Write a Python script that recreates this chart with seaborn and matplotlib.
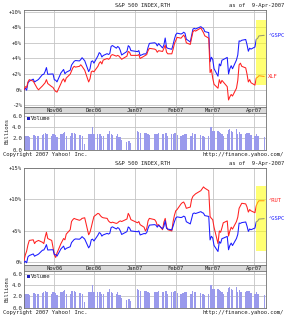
import numpy as np
import pandas as pd
import matplotlib
matplotlib.use("Agg")
import matplotlib.pyplot as plt
from matplotlib.patches import Rectangle
import seaborn as sns

# ---------------- data ----------------
start_date = "2006-10-09"
end_date = "2007-04-09"
holidays = ["2006-11-23", "2006-12-25", "2007-01-01", "2007-01-02",
            "2007-01-15", "2007-02-19", "2007-04-06"]

gspc_pct = [0.0, 0.2, -0.05, 0.9, 1.1, 1.36, 0.99, 1.12, 1.21, 1.33, 1.95, 1.98, 2.34, 2.84, 1.98, 2.02, 2.02,
            1.27, 1.23, 1.01, 2.16, 2.38, 2.60, 2.05, 2.24, 2.50, 3.15, 3.40, 3.64, 3.74, 3.69, 3.86, 4.10, 3.72, 2.32, 2.67, 3.61, 3.70,
            3.41, 4.33, 4.75, 4.61, 4.19, 4.38, 4.62, 4.51, 4.63, 5.54, 5.66, 5.32, 5.54, 5.40, 5.01, 4.45, 4.90, 5.64, 5.48, 5.01,
            4.88, 5.01, 4.37, 4.60, 4.55, 4.75, 5.42, 5.93, 6.01, 5.92, 5.61, 5.91, 5.35, 5.73, 6.62, 5.42, 5.30, 5.18, 5.79, 6.48,
            7.05, 7.24, 7.13, 7.21, 7.36, 7.23, 6.47, 6.12, 6.93, 7.75, 7.86, 7.77, 8.07, 7.92, 7.83, 7.44, 7.31, 3.58, 4.16,
            3.89, 2.70, 1.74, 3.31, 3.06, 3.79, 3.86, 4.14, 2.02, 2.70, 3.08, 2.69, 3.81, 4.46, 6.25, 6.21, 6.33, 6.43, 5.77, 4.93, 5.32, 5.20,
            5.47, 6.45, 6.57, 6.89, 6.96]

xlf_pct = [0.0, 0.4, 0.3, 1.0, 1.3, 1.1, 0.8, 0.5, 0.2, 0.0, 0.5, 0.7, 0.9, 1.3, 0.8, 0.4, 0.3,
           0.0, -0.2, -0.3, 0.8, 1.2, 1.4, 1.0, 1.5, 2.0, 2.4, 2.8, 3.0, 2.9, 3.0, 3.2, 3.0, 2.5, 1.0, 1.4, 2.3, 2.4,
           2.3, 3.0, 3.4, 3.6, 3.3, 3.8, 4.0, 3.9, 4.0, 4.4, 4.5, 4.3, 4.4, 4.3, 4.1, 3.9, 4.3, 4.9, 4.8, 4.4,
           4.4, 4.5, 4.0, 4.3, 4.4, 4.5, 5.0, 5.3, 5.2, 5.1, 4.8, 5.0, 4.9, 5.3, 5.7, 4.8, 4.6, 4.6, 5.2, 5.9,
           6.3, 6.7, 6.6, 6.8, 7.0, 6.7, 6.0, 5.8, 6.6, 7.4, 7.6, 7.5, 7.9, 7.6, 7.3, 6.9, 6.6, 2.2, 2.6,
           1.5, 0.7, 0.2, 1.3, 0.8, 1.2, 1.0, 0.4, -1.3, -0.9, -0.6, -0.8, 0.2, 1.2, 3.2, 3.4, 3.0, 2.8, 2.0, 1.0, 1.3, 0.9,
           0.6, 1.5, 1.6, 1.8, 1.7]

rut_pct = [0.3, 1.2, 1.8, 2.8, 3.5, 3.6, 3.0, 3.3, 3.4, 3.5, 3.2, 3.0, 4.0, 4.8, 3.8, 3.5, 2.4,
           1.2, 0.8, 1.5, 3.0, 3.4, 3.8, 3.6, 4.5, 5.2, 6.5, 6.8, 7.0, 6.9, 6.7, 6.8, 7.0, 7.1, 4.4, 4.8, 5.6, 6.5,
           7.3, 7.8, 7.7, 7.4, 7.2, 7.1, 7.0, 6.6, 6.4, 6.3, 6.4, 6.2, 6.3, 6.5, 6.6, 6.5, 6.9, 7.8, 7.4, 6.8,
           6.3, 6.5, 6.0, 5.6, 5.0, 5.4, 6.6, 7.0, 6.8, 6.5, 5.9, 6.0, 5.2, 6.4, 7.0, 5.7, 5.2, 5.0, 6.5, 7.5,
           8.2, 8.4, 9.3, 9.5, 9.6, 9.2, 8.6, 8.8, 10.0, 10.5, 10.7, 10.9, 11.4, 11.7, 12.0, 11.8, 11.4, 7.3, 7.0,
           6.8, 5.6, 3.0, 5.0, 4.8, 5.5, 6.3, 6.6, 4.2, 5.0, 5.6, 5.3, 6.5, 7.2, 8.6, 9.0, 9.4, 9.3, 8.8, 8.0, 8.4, 8.2,
           7.9, 9.0, 9.5, 9.8, 9.8]

volume_bn = [2.4, 2.4, 2.5, 2.5, 2.3, 2.6, 2.6, 2.5, 2.5, 2.4, 2.6, 2.8, 2.9, 2.7, 2.7, 2.5, 2.8,
             2.8, 2.6, 2.3, 2.7, 2.8, 2.9, 3.1, 2.4, 2.5, 3.0, 3.0, 2.9, 2.8, 2.6, 2.6, 2.5, 0.9, 2.7, 2.8, 2.8, 4.0,
             2.8, 2.7, 2.7, 2.7, 2.5, 2.4, 2.7, 2.8, 3.3, 2.7, 2.6, 2.5, 2.8, 2.2, 2.3, 1.7, 1.3, 1.6, 1.6, 1.2,
             3.4, 3.2, 3.0, 3.0, 3.0, 2.9, 2.7, 2.6, 2.7, 2.8, 2.7, 2.9, 2.7, 2.8, 2.9, 2.9, 2.5, 2.7, 2.8, 2.9,
             2.9, 2.6, 2.5, 2.6, 2.6, 2.8, 2.7, 2.5, 2.5, 2.9, 2.7, 2.7, 2.6, 2.5, 2.4, 2.3, 2.5, 4.1, 4.0,
             3.4, 3.3, 3.3, 3.2, 2.9, 2.7, 2.5, 2.7, 3.5, 3.7, 3.3, 3.2, 3.6, 2.8, 3.2, 2.7, 2.7, 2.8, 3.0, 2.9, 2.9, 2.6,
             2.4, 2.7, 2.5, 2.5, 2.3]

month_labels = ["Nov06", "Dec06", "Jan07", "Feb07", "Mar07", "Apr07"]
month_starts = ["2006-11-01", "2006-12-01", "2007-01-01", "2007-02-01", "2007-03-01", "2007-04-01"]

top_yticks = [-2, 0, 2, 4, 6, 8, 10]
top_ylabels = ["-2%", "0%", "+2%", "+4%", "+6%", "+8%", "+10%"]
bot_yticks = [0, 5, 10, 15]
bot_ylabels = ["0%", "+5%", "+10%", "+15%"]
vol_yticks = [0, 2, 4, 6]
vol_ylabels = ["0.0", "2.0", "4.0", "6.0"]

# ---------------- prep ----------------
dates = pd.bdate_range(start_date, end_date).drop(pd.to_datetime(holidays))
t0 = pd.Timestamp(start_date)
days = np.array((dates - t0).days, dtype=float)
assert len(days) == len(gspc_pct) == len(xlf_pct) == len(rut_pct) == len(volume_bn)
month_days = [(pd.Timestamp(m) - t0).days for m in month_starts]

df = pd.DataFrame({"day": days, "gspc": gspc_pct, "xlf": xlf_pct,
                   "rut": rut_pct, "vol": volume_bn})

sns.set_theme(style="white")
plt.rcParams["font.family"] = ["DejaVu Sans Mono", "DejaVu Sans"]

W, H = 289, 320
fig = plt.figure(figsize=(W / 100, H / 100), dpi=100)
fig.patch.set_facecolor("white")

def add_ax(x0, y0, x1, y1):
    return fig.add_axes([x0 / W, 1 - y1 / H, (x1 - x0) / W, (y1 - y0) / H])

FS = 4
BLUE = "#1a1aff"
RED = "#ff2020"
GRID = "#c4c4c4"
EDGE = "#707070"
XL = (0, 183)

def style_frame(ax):
    for s in ax.spines.values():
        s.set_color(EDGE)
        s.set_linewidth(0.6)
    ax.set_facecolor("white")

def panel(yoff, series, ylim, yticks, ylabels, yellow, title_y):
    ax = add_ax(24, 10 + yoff, 265.5, 107 + yoff)
    style_frame(ax)
    for d in month_days:
        ax.axvline(d, color=GRID, lw=0.6, zorder=0)
    for t in yticks:
        ax.axhline(t, color=GRID, lw=0.6, zorder=0)
    for col, color, lab in series:
        sns.lineplot(data=df, x="day", y=col, color=color, lw=0.75, ax=ax, zorder=3)
        ax.text(1.012, df[col].iloc[-1], lab, color=color, fontsize=FS,
                transform=ax.get_yaxis_transform(), va="center", ha="left")
    ax.add_patch(Rectangle((yellow[0], yellow[2]), yellow[1] - yellow[0], yellow[3] - yellow[2],
                           facecolor="#ffff00", alpha=0.55, edgecolor="none", zorder=4, clip_on=False))
    ax.set_xlim(*XL)
    ax.set_ylim(*ylim)
    ax.set_xticks([])
    ax.set_yticks(yticks)
    ax.set_yticklabels(ylabels, fontsize=FS)
    ax.tick_params(axis="y", length=0, pad=1.5)
    ax.set_xlabel("")
    ax.set_ylabel("")

    # date strip
    st = add_ax(24, 107 + yoff, 265.5, 113 + yoff)
    style_frame(st)
    st.set_facecolor("#d9d9d9")
    st.set_xlim(*XL)
    st.set_ylim(0, 1)
    st.set_xticks([])
    st.set_yticks([])
    for d, lab in zip(month_days, month_labels):
        st.text(d, 0.45, lab, fontsize=FS, ha="center", va="center", color="#222222")

    # volume
    vx = add_ax(24, 113 + yoff, 265.5, 149.5 + yoff)
    style_frame(vx)
    for d in month_days:
        vx.axvline(d, color=GRID, lw=0.6, zorder=0)
    for t in vol_yticks[1:]:
        vx.axhline(t, color=GRID, lw=0.6, zorder=0)
    sns.barplot(data=df, x="day", y="vol", native_scale=True, color="#9a9aec",
                saturation=1, width=0.85, errorbar=None, ax=vx, zorder=2, linewidth=0)
    vx.set_xlim(*XL)
    vx.set_ylim(0, 6.55)
    vx.set_xticks([])
    vx.set_yticks(vol_yticks)
    vx.set_yticklabels(vol_ylabels, fontsize=FS)
    vx.tick_params(axis="y", length=0, pad=1.5)
    vx.set_xlabel("")
    vx.set_ylabel("")
    vx.add_patch(Rectangle((0.012, 0.80), 0.011, 0.09, transform=vx.transAxes,
                           facecolor="#2020c0", edgecolor="none"))
    vx.text(0.03, 0.845, "Volume", transform=vx.transAxes, fontsize=FS,
            va="center", ha="left", color="#222222")
    fig.text(7 / W, 1 - (131 + yoff) / H, "Billions", rotation=90, fontsize=FS,
             ha="center", va="center", color="#222222")

    # titles and footer
    fig.text(143 / W, 1 - (title_y) / H, "S&P 500 INDEX,RTH", fontsize=FS,
             ha="center", va="center", color="#222222")
    fig.text(284 / W, 1 - (title_y) / H, "as of  9-Apr-2007", fontsize=FS,
             ha="right", va="center", color="#222222")
    fig.text(3 / W, 1 - (154.5 + yoff) / H, "Copyright 2007 Yahoo! Inc.", fontsize=FS,
             ha="left", va="center", color="#222222")
    fig.text(284 / W, 1 - (154.5 + yoff) / H, "http://finance.yahoo.com/", fontsize=FS,
             ha="right", va="center", color="#222222")
    return ax

panel(0, [("gspc", BLUE, "^GSPC"), ("xlf", RED, "XLF")], (-2.2, 10.2),
      top_yticks, top_ylabels, (175.5, 183.5, 0.6, 8.9), 5)
panel(158, [("rut", RED, "^RUT"), ("gspc", BLUE, "^GSPC")], (-0.4, 15.0),
      bot_yticks, bot_ylabels, (175.5, 183.5, 1.8, 12.1), 164)

fig.savefig("out.png", dpi=100, facecolor="white")
